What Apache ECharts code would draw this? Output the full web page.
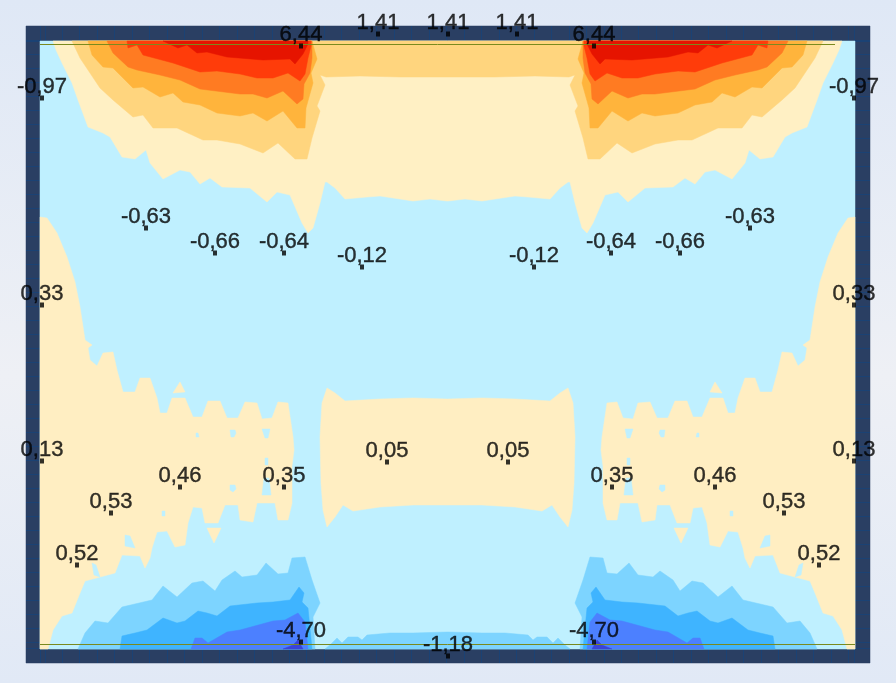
<!DOCTYPE html>
<html><head><meta charset="utf-8">
<style>html,body{margin:0;padding:0;width:896px;height:683px;overflow:hidden;background:linear-gradient(180deg,#dfe8f6 0%,#eef0f5 55%,#e1e9f6 100%)}#c{width:896px;height:683px}</style>
<script src="https://cdn.jsdelivr.net/npm/echarts@6/dist/echarts.min.js"></script>
</head><body><div id="c"></div>
<script>
// value labels: [marker x, marker y], text
const labelNames=["-0,97","-0,97","6,44","6,44","1,41","1,41","1,41","-0,63","-0,63","-0,66","-0,66","-0,64","-0,64","-0,12","-0,12","0,33","0,33","0,13","0,13","0,05","0,05","0,46","0,46","0,35","0,35","0,53","0,53","0,52","0,52","-4,70","-4,70","-1,18"];
const labelX=[42,854,301,594,378,448,517,146,750,215,680,284,611,362,534,42,854,42,854,387,508,180,715,284,612,111,784,77,819,301,594,448];
const labelY=[98,98,46,46,34,34,34,228,228,253,253,253,253,267,267,305,305,461,461,462,462,487,487,487,487,513,513,565,565,642,642,656];

// contour outlines, left half of the slab in picture units
const topPale=[[53,41],[56,50],[62,63],[72,83],[78,100],[88,127],[103,133],[110,137],[122,157],[135,159],[146,150],[150,163],[163,179],[180,170],[190,172],[200,184],[210,178],[222,187],[250,188],[267,202],[277,192],[290,195],[302,223],[308,233],[313,228],[320,203],[325,182],[327,182],[335,188],[345,199],[367,197],[380,196],[413,201],[430,199],[447,201]];
const topLight=[[72,41],[80,58],[90,73],[100,88],[113,100],[133,117],[143,115],[153,128],[177,128],[203,140],[217,140],[240,144],[263,153],[278,143],[295,159],[307,159],[312,138],[320,111],[317,106],[325,85],[320,75],[326,77],[360,76],[400,77],[447,77]];
const lobeOrange=[[88,41],[92,55],[103,67],[113,68],[133,88],[143,87],[160,97],[173,93],[183,102],[200,105],[217,113],[240,116],[253,113],[267,121],[283,111],[297,128],[305,128],[306,108],[313,83],[311,73],[317,59],[312,41]];
const lobeDark=[[107,41],[113,53],[128,67],[137,70],[160,75],[180,80],[200,89],[240,94],[253,94],[267,98],[283,91],[297,104],[303,99],[304,84],[310,73],[312,58],[312,41]];
const lobeRed=[[127,41],[128,48],[137,45],[143,55],[173,63],[200,72],[217,71],[240,74],[257,78],[273,78],[288,73],[300,81],[305,74],[308,58],[311,46],[311,41]];
const lobeDeep=[[163,41],[178,48],[187,45],[197,53],[207,52],[227,57],[263,60],[290,59],[295,64],[303,54],[308,44],[308,41]];
const sideYellow=[[40,217],[47,218],[57,233],[67,257],[75,282],[80,307],[85,340],[92,345],[88,348],[90,360],[97,366],[103,353],[113,352],[117,370],[123,392],[135,392],[140,378],[150,378],[157,398],[160,413],[167,413],[172,398],[185,398],[193,417],[202,417],[208,401],[220,401],[227,418],[238,418],[245,402],[257,403],[262,419],[272,418],[278,402],[288,403],[293,437],[294,450],[292,466],[292,503],[288,520],[278,520],[275,503],[257,503],[253,522],[240,520],[238,505],[225,505],[218,523],[205,523],[202,508],[193,507],[188,523],[185,545],[175,547],[167,531],[157,532],[152,548],[150,558],[145,568],[140,556],[122,555],[115,573],[100,577],[85,581],[80,593],[72,613],[62,616],[53,630],[48,649],[40,649]];
const toothUpper=[[180,382],[185,392],[173,393]];
const toothLower=[[207,528],[221,528],[214,543]];
const hole1=[[196,433],[198,433],[199,437],[196,437]];
const hole2=[[230,430],[235,430],[236,433],[234,437],[231,437]];
const hole3=[[262,429],[270,429],[268,438],[265,438]];
const hole4=[[264,478],[269,478],[271,495],[262,495]];
const hole5=[[230,485],[235,485],[236,489],[233,492],[230,490]];
const hole6=[[162,511],[165,511],[165,516],[162,516]];
const hole7=[[125,535],[130,536],[135,548],[125,546]];
const hole8=[[92,563],[96,565],[100,577],[94,575]];
const hole9=[[265,458],[268,458],[268,465],[265,465]];
const midBlock=[[447,505],[413,505],[380,507],[353,511],[343,505],[335,517],[327,527],[323,510],[321,483],[320,437],[322,403],[327,388],[335,393],[345,401],[380,399],[413,398],[447,399]];
const blueLight=[[78,649],[85,633],[95,621],[108,623],[122,607],[152,600],[163,586],[177,597],[192,583],[203,581],[215,591],[222,580],[235,571],[242,577],[257,575],[266,563],[278,574],[288,573],[292,558],[305,557],[312,580],[320,603],[313,617],[315,649]];
const blueStrip=[[325,649],[330,645],[337,638],[342,643],[348,637],[358,637],[362,640],[367,635],[390,633],[413,633],[447,632]];
const blueMid=[[120,649],[122,636],[135,633],[147,630],[163,618],[177,623],[185,621],[198,611],[207,613],[217,616],[230,606],[257,603],[273,602],[290,600],[299,587],[304,593],[302,602],[308,608],[312,649]];
const blueDeep=[[191,649],[195,638],[202,638],[208,643],[227,632],[240,630],[273,621],[285,620],[298,613],[305,622],[308,649]];
const blueCore=[[283,649],[293,645],[298,640],[303,649]];

const frameOuter=[[26,26],[870,26],[870,663],[26,663]];
const plate=[[40,41],[855,41],[855,649],[40,649]];
const lineTop=[[40,44.5],[835,44.5]];
const lineBottom=[[40,644.5],[855,644.5]];

const mirror=p=>p.map(([x,y])=>[895-x,y]);
const both=p=>[p,mirror(p)];
const whole=p=>[p.concat(mirror(p).reverse())];

const layers=[
 ['#2a3f63',[frameOuter]],
 ['#bff0ff',[plate]],
 ['#fff0c4',whole(topPale)],
 ['#ffd57e',whole(topLight)],
 ['#ffb43c',both(lobeOrange)],
 ['#ff7b22',both(lobeDark)],
 ['#ff3c0a',both(lobeRed)],
 ['#e61400',both(lobeDeep)],
 ['#ffeec2',both(sideYellow).concat(both(toothUpper),both(toothLower),whole(midBlock))],
 ['#bff0ff',[hole1,hole2,hole3,hole4,hole5,hole6,hole7,hole8,hole9].flatMap(both)],
 ['#7dd4ff',both(blueLight).concat(whole(blueStrip))],
 ['#3fb4ff',both(blueMid)],
 ['#4c80ff',both(blueDeep)],
 ['#3a44d8',both(blueCore)]
];

const polygonSeries=(color,polys)=>({
 type:'custom',coordinateSystem:'cartesian2d',silent:true,clip:false,
 data:polys.map((_,i)=>[i,0]),
 renderItem:(params,api)=>({type:'polygon',shape:{points:polys[api.value(0)].map(p=>api.coord(p))},style:{fill:color,stroke:color,lineWidth:0.5}})
});
const segSeries=(color,width,segs)=>({
 type:'custom',coordinateSystem:'cartesian2d',silent:true,clip:false,
 data:segs.map((_,i)=>[i,0]),
 renderItem:(params,api)=>{const s=segs[api.value(0)];const a=api.coord(s[0]),b=api.coord(s[1]);
  return {type:'line',shape:{x1:a[0],y1:a[1],x2:b[0],y2:b[1]},style:{stroke:color,lineWidth:width}}}
});

// slab edge mesh
const meshXs=[45.5,62.5,79.5,97.5,114.5,132.5,149.5,167.5,184.5,202.5,219.5,237.5,254.5,272.5,289.5,306.5,324.5,341.5,359.5,376.5,394.5,411.5,429.5,446.5,464.5,481.5,499.5,516.5,534.5,551.5,569.5,586.5,604.5,621.5,638.5,656.5,673.5,691.5,708.5,726.5,743.5,761.5,778.5,796.5,813.5,831.5,848.5];
const meshYs=[40.5,54.5,68.5,82.5,96.5,110.5,124.5,138.5,152.5,166.5,180.5,194.5,208.5,222.5,236.5,250.5,264.5,278.5,292.5,306.5,320.5,334.5,348.5,362.5,376.5,390.5,404.5,418.5,432.5,446.5,460.5,474.5,488.5,502.5,516.5,530.5,544.5,558.5,572.5,586.5,600.5,614.5,628.5,642.5];
const mesh=[];
meshXs.forEach(x=>{mesh.push([[x,26],[x,41]]);mesh.push([[x,649],[x,663]])});
meshYs.forEach(y=>{mesh.push([[26,y],[40,y]]);mesh.push([[855,y],[870,y]])});
mesh.push([[26,41.5],[870,41.5]],[[26,648.5],[870,648.5]],[[40.5,26],[40.5,663]],[[854.5,26],[854.5,663]]);

const chart=echarts.init(document.getElementById('c'),null,{renderer:'canvas'});
const series=[];
series.push(polygonSeries(layers[0][0],layers[0][1]));
series.push(segSeries('#1b4274',1,mesh));
layers.slice(1).forEach(l=>series.push(polygonSeries(l[0],l[1])));
series.push(segSeries('#7a8a1e',1,[lineTop,lineBottom]));
series.push({type:'scatter',silent:true,clip:false,symbol:'rect',symbolSize:[4,5],itemStyle:{color:'#000'},
 data:labelNames.map((n,i)=>({name:n,value:[labelX[i],labelY[i]]})),
 label:{show:true,position:'top',distance:-2,formatter:p=>p.name,color:'#000',fontFamily:'"Liberation Sans",Arial,sans-serif',fontSize:22,textBorderColor:'#000',textBorderWidth:0.4}});
chart.setOption({
 animation:false,backgroundColor:'transparent',
 grid:{left:0,right:0,top:0,bottom:0},
 xAxis:{type:'value',min:0,max:896,show:false},
 yAxis:{type:'value',min:0,max:683,inverse:true,show:false},
 series
});
</script></body></html>
